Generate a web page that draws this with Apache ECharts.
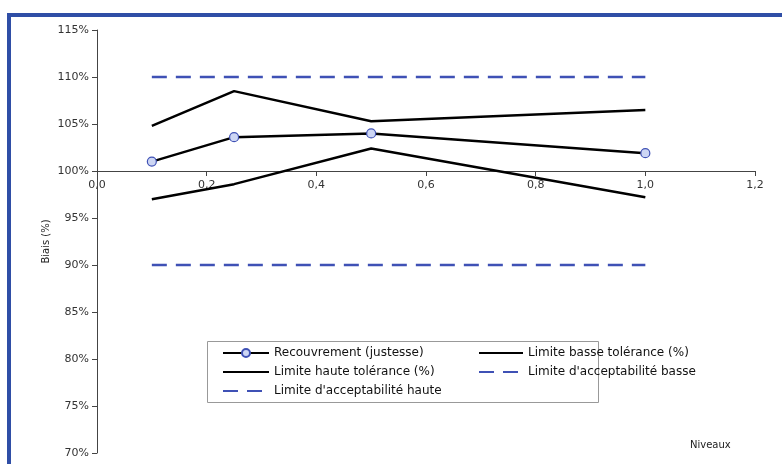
<!DOCTYPE html>
<html>
<head>
<meta charset="utf-8">
<script src="https://cdn.jsdelivr.net/npm/echarts@6/dist/echarts.min.js"></script>
<style>
  html, body { margin: 0; padding: 0; background: #fff; }
  #chart { width: 782px; height: 464px; }
</style>
</head>
<body>
<div id="chart"></div>
<script>
// niveaux (axe X)
var niveaux = [0.1, 0.25, 0.5, 1.0]
// biais en %
var recouvrement = [101.0, 103.6, 104.0, 101.9]
var limBasseTol = [97.0, 98.6, 102.4, 97.2]
var limHauteTol = [104.8, 108.5, 105.3, 106.5]
var limAccBasse = [90, 90, 90, 90]
var limAccHaute = [110, 110, 110, 110]

var yTicks = [70, 115, 5]   // min, max, interval
var xTicks = [0, 1.2, 0.2]

var police = 'DejaVu Sans'
var bleu = '#3f51b5'

function pairs (ys) {
  var out = []
  for (var i in niveaux) {
    out.push([niveaux[i], ys[i]])
  }
  return out
}

// pas de symbole dans la légende pour les lignes simples
function sansSymbole (nom) {
  return { name: nom, itemStyle: { opacity: 0 } }
}

var chart = echarts.init(document.getElementById('chart'))

var option = {
  animation: false,
  textStyle: { fontFamily: police },
  grid: { left: 97, right: 27, top: 30, bottom: 11 },
  xAxis: {
    type: 'value',
    min: xTicks[0], max: xTicks[1], interval: xTicks[2],
    offset: -282,
    axisLine: { onZero: false, lineStyle: { color: '#444', width: 1 } },
    axisTick: { show: true, length: 5, lineStyle: { color: '#444' } },
    axisLabel: {
      color: '#333', fontSize: 11, fontFamily: police, margin: 9,
      formatter: function (v) { return v.toFixed(1).replace('.', ',') }
    },
    splitLine: { show: false }
  },
  yAxis: {
    type: 'value',
    min: yTicks[0], max: yTicks[1], interval: yTicks[2],
    name: 'Biais (%)',
    nameLocation: 'middle',
    nameGap: 46,
    nameMoveOverlap: false,
    nameTextStyle: { color: '#222', fontSize: 10, fontFamily: police },
    axisLine: { show: true, lineStyle: { color: '#444', width: 1 } },
    axisTick: { show: true, length: 5, lineStyle: { color: '#444' } },
    axisLabel: { color: '#333', fontSize: 11, fontFamily: police, margin: 8, formatter: '{value}%' },
    splitLine: { show: false }
  },
  legend: [
    {
      orient: 'vertical', left: 222, top: 347, padding: 0,
      itemWidth: 46, itemHeight: 10, itemGap: 7,
      textStyle: { color: '#111', fontSize: 12, fontFamily: police },
      data: ['Recouvrement (justesse)', sansSymbole('Limite haute tolérance (%)'), sansSymbole("Limite d'acceptabilité haute")]
    },
    {
      orient: 'vertical', left: 478, top: 347, padding: 0,
      itemWidth: 44, itemHeight: 10, itemGap: 7,
      textStyle: { color: '#111', fontSize: 12, fontFamily: police },
      data: [sansSymbole('Limite basse tolérance (%)'), sansSymbole("Limite d'acceptabilité basse")]
    }
  ],
  graphic: [
    { type: 'rect', shape: { x: 7, y: 13, width: 775, height: 4 }, style: { fill: '#2f4ea6' } },
    { type: 'rect', shape: { x: 7, y: 13, width: 4, height: 451 }, style: { fill: '#2f4ea6' } },
    { type: 'rect', shape: { x: 207.5, y: 341.5, width: 391, height: 61 }, style: { fill: 'none', stroke: '#999', lineWidth: 1 } },
    { type: 'text', left: 690, top: 440, style: { text: 'Niveaux', fill: '#222', font: '10px ' + police } }
  ],
  series: [
    {
      name: 'Recouvrement (justesse)', type: 'line', data: pairs(recouvrement),
      symbol: 'circle', symbolSize: 9,
      itemStyle: { color: '#cdd6f4', borderColor: bleu, borderWidth: 1.2 },
      lineStyle: { color: '#000', width: 2.5 }
    },
    {
      name: 'Limite basse tolérance (%)', type: 'line', data: pairs(limBasseTol),
      symbol: 'none', itemStyle: { color: '#000' },
      lineStyle: { color: '#000', width: 2.5 }
    },
    {
      name: 'Limite haute tolérance (%)', type: 'line', data: pairs(limHauteTol),
      symbol: 'none', itemStyle: { color: '#000' },
      lineStyle: { color: '#000', width: 2.5 }
    },
    {
      name: "Limite d'acceptabilité basse", type: 'line', data: pairs(limAccBasse),
      symbol: 'none', itemStyle: { color: bleu },
      lineStyle: { color: bleu, width: 2.5, type: [15, 9] }
    },
    {
      name: "Limite d'acceptabilité haute", type: 'line', data: pairs(limAccHaute),
      symbol: 'none', itemStyle: { color: bleu },
      lineStyle: { color: bleu, width: 2.5, type: [15, 9] }
    }
  ]
}

chart.setOption(option)
</script>
</body>
</html>
